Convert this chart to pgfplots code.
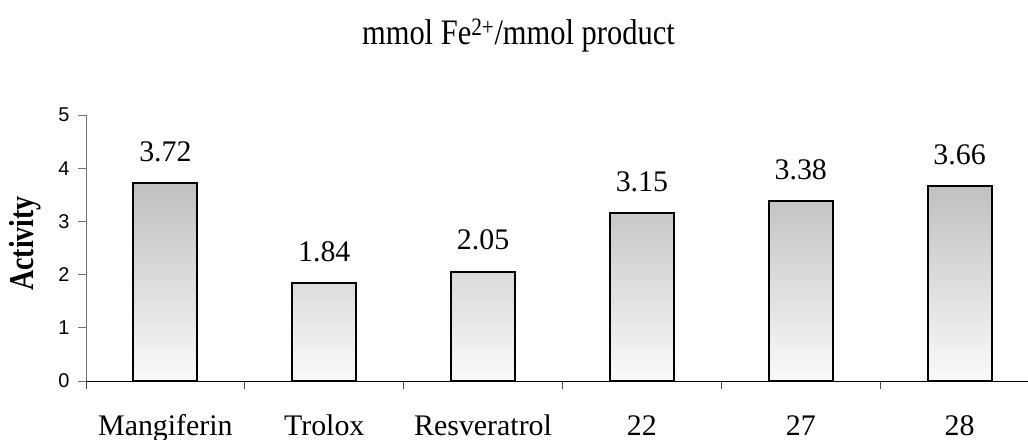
\documentclass[border=0pt]{standalone}
\usepackage{fontspec}
\setmainfont{Liberation Serif}
\newfontfamily\sansf{Liberation Sans}
\newfontfamily\condserif[FakeStretch=0.85]{Liberation Serif}
\newfontfamily\condserifbold[FakeStretch=0.8]{Liberation Serif Bold}
\usepackage{pgfplots}
\pgfplotsset{compat=1.18}
\begin{document}
\begin{tikzpicture}
\clip (-86bp,-59bp) rectangle (942bp,381bp);
\begin{axis}[
  scale only axis,
  width=953bp, height=266bp,
  xmin=-0.5, xmax=5.5,
  ymin=0, ymax=5,
  ytick={0,1,2,3,4,5},
  axis lines*=left,
  axis line style={-},
  x axis line style={black, line width=0.9bp},
  y axis line style={black!55, line width=0.9bp},
  tick align=outside,
  major tick length=8bp,
  every tick/.style={line width=0.9bp},
  y tick style={black!55},
  x tick style={black!70},
  xtick={-0.5,0.5,1.5,2.5,3.5,4.5,5.5},
  xticklabels={},
  extra x ticks={0,1,2,3,4,5},
  extra x tick labels={Mangiferin,Trolox,Resveratrol,22,27,28},
  extra x tick style={major tick length=0pt,
    tick label style={anchor=base, yshift=-54bp, font=\fontsize{30}{36}\selectfont}},
  /pgf/number format/assume math mode=true,
  yticklabel style={font=\sansf\fontsize{20}{24}\selectfont, anchor=east, xshift=-5bp},
  title={mmol Fe\textsuperscript{2+}/mmol product},
  title style={at={(axis description cs:0.4538,1.244)}, anchor=base, font=\condserif\fontsize{36}{42}\selectfont},
  ylabel={Activity},
  ylabel style={at={(axis description cs:-0.064,0.517)}, anchor=center, rotate=0, font=\condserifbold\fontsize{35}{40}\selectfont},
  ybar, bar width=64bp,
  nodes near coords={\pgfmathprintnumber[fixed,fixed zerofill,precision=2]{\pgfplotspointmeta}},
  every node near coord/.append style={anchor=base, yshift=22bp, font=\fontsize{30}{36}\selectfont, text=black},
]
\addplot[draw=black, line width=2bp, top color=black!25, bottom color=white!98!black]
  coordinates {(0,3.72) (1,1.84) (2,2.05) (3,3.15) (4,3.38) (5,3.66)};
\end{axis}
\end{tikzpicture}
\end{document}
